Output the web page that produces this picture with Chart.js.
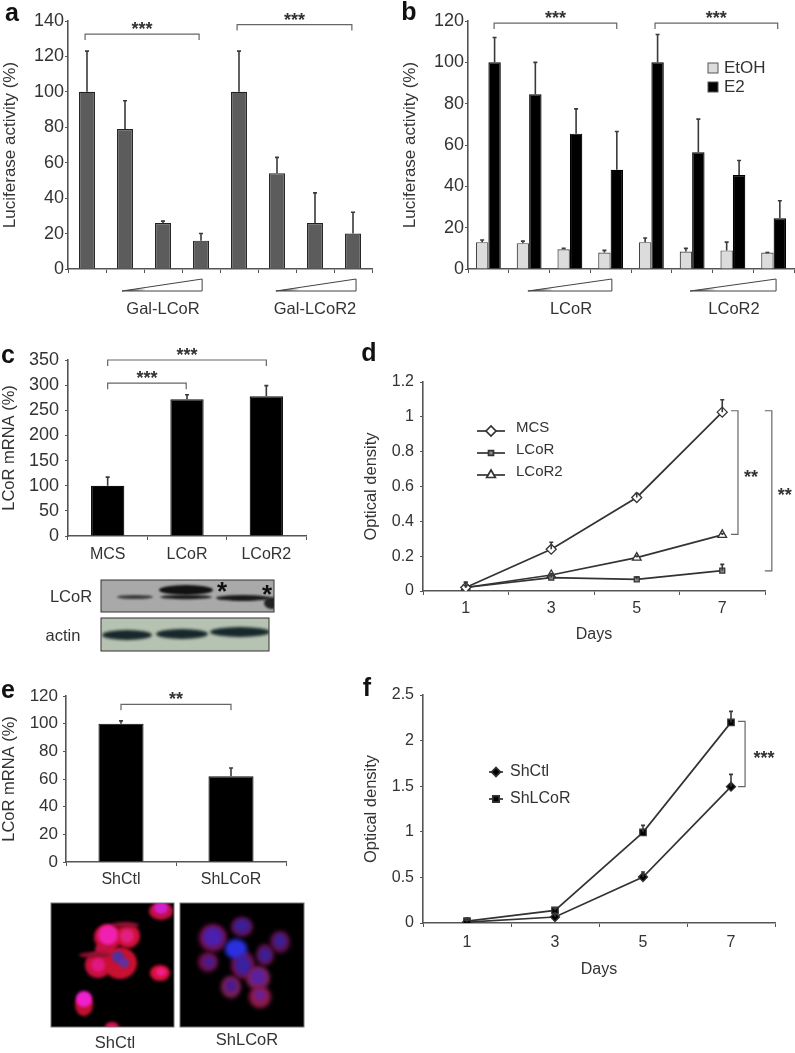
<!DOCTYPE html>
<html>
<head>
<meta charset="utf-8">
<style>
  html, body { margin: 0; padding: 0; background: #fff; }
  #page { position: relative; width: 795px; height: 1053px; overflow: hidden; filter: blur(0.35px); font-family: "Liberation Sans", Arial, sans-serif; color: #333; }
  #page canvas { position: absolute; }
  .lbl { position: absolute; white-space: nowrap; transform: translate(-50%, -50%); font-size: 16.5px; }
  .letter { position: absolute; font-weight: bold; font-size: 25px; color: #111; transform: translate(-50%, -50%); }
</style>
<script src="https://cdn.jsdelivr.net/npm/chart.js@4/dist/chart.umd.min.js"></script>
</head>
<body>
<div id="page"><canvas id="photos" width="795" height="1053" style="left:0;top:0"></canvas></div>
<script>
// panel a
const galLabels = ['ctl', 'd1', 'd2', 'd3', 'ctl2', 'd1b', 'd2b', 'd3b'];
const galValues = [100, 79, 26, 16, 100, 54, 26, 20];
const galTops = [123, 95, 27, 20, 123, 63, 43, 32];
const galTicks = [0, 20, 40, 60, 80, 100, 120, 140];

// panel b
const e2Labels = ['ctl', 'd1', 'd2', 'd3', 'ctl2', 'd1b', 'd2b', 'd3b'];
const etohValues = [13, 12.5, 9.5, 8, 13, 8.5, 9, 8];
const etohTops = [14, 13.5, 10, 9, 15, 10, 13, 8];
const e2Values = [100, 84.5, 65.5, 48, 100, 56.5, 45.5, 24.5];
const e2Tops = [112, 100, 77.5, 66.5, 113.5, 72.5, 52.5, 33];
const e2Ticks = [0, 20, 40, 60, 80, 100, 120];

// panel c
const mrnaLabels = ['MCS', 'LCoR', 'LCoR2'];
const mrnaValues = [100, 272, 278];
const mrnaTops = [117, 281, 299];
const mrnaTicks = [0, 50, 100, 150, 200, 250, 300, 350];

// panel d
const days = ['1', '3', '5', '7'];
const mcsOD = [0.02, 0.24, 0.537, 1.027];
const mcsTops = [0.05, 0.28, 0.56, 1.098];
const lcorOD = [0.02, 0.077, 0.067, 0.117];
const lcorTops = [0.05, 0.09, 0.08, 0.153];
const lcor2OD = [0.02, 0.092, 0.192, 0.322];
const lcor2Tops = [0.03, 0.1, 0.2, 0.33];
const odTicks = [0, 0.2, 0.4, 0.6, 0.8, 1, 1.2];

// panel e
const shLabels = ['ShCtl', 'ShLCoR'];
const shValues = [100, 62];
const shTops = [102, 68];
const shTicks = [0, 20, 40, 60, 80, 100, 120];

// panel f
const shCtlOD = [0.01, 0.066, 0.504, 1.495];
const shCtlTops = [0.03, 0.1, 0.56, 1.63];
const shLcorOD = [0.02, 0.139, 0.994, 2.2];
const shLcorTops = [0.05, 0.16, 1.07, 2.32];
const odTicksF = [0, 0.5, 1, 1.5, 2, 2.5];

const FONT = '"Liberation Sans", Arial, sans-serif';
const AXIS = '#555';
const page = document.getElementById('page');

// error bars, brackets, dose wedges and the small legends
const extras = {
    id: 'extras',
    afterDatasetsDraw(chart) {
        const ctx = chart.ctx, x = chart.scales.x, y = chart.scales.y;
        ctx.save();
        chart.data.datasets.forEach((ds, i) => {
            if (!ds.tops) return;
            ctx.strokeStyle = '#3a3a3a';
            ctx.lineWidth = 1.6;
            chart.getDatasetMeta(i).data.forEach((el, j) => {
                const top = y.getPixelForValue(ds.tops[j]);
                ctx.beginPath();
                ctx.moveTo(el.x, el.y);
                ctx.lineTo(el.x, top);
                ctx.moveTo(el.x - 2, top);
                ctx.lineTo(el.x + 2, top);
                ctx.stroke();
            });
        });
        const opts = chart.options.plugins.extras;

        (opts.wedges || []).forEach(w => {
            const x1 = x.getPixelForValue(w[0]), x2 = x.getPixelForValue(w[1]);
            const y1 = y.bottom + 10, y2 = y.bottom + 22;
            const g = ctx.createLinearGradient(x1, 0, x2, 0);
            g.addColorStop(0, '#111');
            g.addColorStop(0.3, '#fff');
            ctx.fillStyle = g;
            ctx.strokeStyle = '#444';
            ctx.lineWidth = 1;
            ctx.beginPath();
            ctx.moveTo(x1, y2);
            ctx.lineTo(x2, y1);
            ctx.lineTo(x2, y2);
            ctx.closePath();
            ctx.fill();
            ctx.stroke();
        });

        ctx.strokeStyle = '#666';
        ctx.lineWidth = 1.2;
        ctx.fillStyle = '#333';
        ctx.font = 'bold 18px ' + FONT;
        ctx.textAlign = 'center';
        ctx.textBaseline = 'middle';
        (opts.brackets || []).forEach(b => {
            const x1 = x.getPixelForValue(b.from), x2 = x.getPixelForValue(b.to), py = y.getPixelForValue(b.at);
            ctx.beginPath();
            ctx.moveTo(x1, py + 6);
            ctx.lineTo(x1, py);
            ctx.lineTo(x2, py);
            ctx.lineTo(x2, py + 6);
            ctx.stroke();
            ctx.fillText(b.label, (x1 + x2) / 2 + (b.dx || 0), py - 4);
        });
        (opts.sideBrackets || []).forEach(b => {
            const px = x.getPixelForValue(b.x), y1 = y.getPixelForValue(b.from), y2 = y.getPixelForValue(b.to);
            ctx.beginPath();
            ctx.moveTo(px - 7, y1);
            ctx.lineTo(px, y1);
            ctx.lineTo(px, y2);
            ctx.lineTo(px - 7, y2);
            ctx.stroke();
            ctx.fillText(b.label, px + b.dx, (y1 + y2) / 2 + 5);
        });

        const lg = opts.legend;
        if (lg) {
            ctx.textAlign = 'left';
            ctx.font = lg.size + 'px ' + FONT;
            chart.data.datasets.forEach((ds, i) => {
                const py = lg.y + i * lg.gap;
                if (lg.swatch) {
                    ctx.fillStyle = ds.backgroundColor;
                    ctx.strokeStyle = '#555';
                    ctx.lineWidth = 1;
                    ctx.fillRect(lg.x, py - 5, 10, 10);
                    ctx.strokeRect(lg.x, py - 5, 10, 10);
                } else {
                    ctx.strokeStyle = ds.borderColor;
                    ctx.lineWidth = 1.7;
                    ctx.beginPath();
                    ctx.moveTo(lg.x, py);
                    ctx.lineTo(lg.x + lg.line, py);
                    ctx.stroke();
                    ctx.fillStyle = ds.pointBackgroundColor;
                    Chart.helpers.drawPoint(ctx, { pointStyle: ds.pointStyle, radius: ds.pointRadius, borderWidth: 1.3 }, lg.x + lg.line / 2, py);
                }
                ctx.fillStyle = '#333';
                ctx.fillText(ds.label, lg.textX, py + lg.textDy);
            });
        }
        ctx.restore();
    }
};

// box = plot area on the page: left, top, right, bottom
function makeChart(type, box, yWidth, xHeight, labels, datasets, ticks, o) {
    const padTop = 20, padRight = o.padRight === undefined ? 12 : o.padRight;
    const c = document.createElement('canvas');
    const left = box[0] - yWidth, top = box[1] - padTop;
    const w = box[2] - box[0] + yWidth + padRight, h = box[3] - box[1] + padTop + xHeight;
    c.width = w;
    c.height = h;
    c.style.left = left + 'px';
    c.style.top = top + 'px';
    c.style.width = w + 'px';
    c.style.height = h + 'px';
    page.appendChild(c);
    return new Chart(c.getContext('2d'), {
        type: type,
        data: { labels: labels, datasets: datasets },
        plugins: [extras],
        options: {
            responsive: false,
            animation: false,
            devicePixelRatio: 1,
            layout: { padding: { top: padTop, right: padRight, left: 0, bottom: 0 } },
            plugins: { legend: { display: false }, tooltip: { enabled: false }, extras: o },
            scales: {
                x: {
                    type: 'category',
                    offset: true,
                    afterFit: s => { s.height = xHeight; },
                    border: { color: AXIS, width: 1.6 },
                    grid: { drawOnChartArea: false, offset: true, tickLength: 4, color: AXIS },
                    ticks: { display: !o.noXLabels, color: '#333', padding: o.xPad || 3, maxRotation: 0, font: { family: FONT, size: 16 } },
                    title: { display: !!o.xTitle, text: o.xTitle, color: '#333', padding: 0, font: { family: FONT, size: 16 } }
                },
                y: {
                    min: 0,
                    max: ticks[ticks.length - 1],
                    afterFit: s => { s.width = yWidth; },
                    afterBuildTicks: s => { s.ticks = ticks.map(v => ({ value: v })); },
                    border: { color: AXIS, width: 1.6 },
                    grid: { drawOnChartArea: false, tickLength: 3, color: AXIS },
                    ticks: { color: '#333', padding: o.yPad === undefined ? 1 : o.yPad, callback: v => String(v), font: { family: FONT, size: o.tickSize || 18 } },
                    title: { display: true, text: o.yTitle, color: '#333', padding: 0, font: { family: FONT, size: o.titleSize || 16.5 } }
                }
            }
        }
    });
}

function barSet(values, tops, color, edge, pct, cat) {
    return { data: values, tops: tops, backgroundColor: color, borderColor: edge, borderWidth: 1.2, barPercentage: pct, categoryPercentage: cat };
}

function lineSet(label, values, tops, style, radius, fill) {
    return {
        label: label, data: values, tops: tops, tension: 0, borderColor: '#333', borderWidth: 1.7,
        pointStyle: style, pointRadius: radius, pointBackgroundColor: fill, pointBorderColor: '#333', pointBorderWidth: 1.3
    };
}

makeChart('bar', [68, 21, 372, 269], 68, 30, galLabels, [barSet(galValues, galTops, '#5c5c5c', '#222', 0.42, 1)], galTicks, {
    yTitle: 'Luciferase activity (%)', noXLabels: true, titleSize: 17,
    wedges: [[0.92, 3.03], [4.97, 7.08]],
    brackets: [
        { from: -0.05, to: 2.95, at: 132.6, label: '***' },
        { from: 3.95, to: 6.97, at: 138, label: '***' }
    ]
});

makeChart('bar', [468, 21, 794, 269], 68, 30, e2Labels, [
    Object.assign(barSet(etohValues, etohTops, '#dcdcdc', '#444', 1, 0.61), { label: 'EtOH' }),
    Object.assign(barSet(e2Values, e2Tops, '#000', '#000', 1, 0.61), { label: 'E2' })
], e2Ticks, {
    yTitle: 'Luciferase activity (%)', noXLabels: true, padRight: 1, titleSize: 17,
    wedges: [[0.97, 3.03], [4.95, 7.06]],
    brackets: [
        { from: 0.14, to: 3.15, at: 119, label: '***' },
        { from: 4.09, to: 7.1, at: 119, label: '***' }
    ],
    legend: { x: 308, y: 67, gap: 19, size: 17, swatch: true, textX: 324, textDy: 0 }
});

makeChart('bar', [68, 360, 306, 536], 68, 30, mrnaLabels, [barSet(mrnaValues, mrnaTops, '#000', '#111', 0.42, 1)], mrnaTicks, {
    yTitle: 'LCoR mRNA (%)', xPad: 5, yPad: 6,
    brackets: [
        { from: 0, to: 2, at: 350, label: '***' },
        { from: 0, to: 0.99, at: 304, label: '***' }
    ]
});

makeChart('line', [423, 382, 765, 591], 61, 53, days, [
    lineSet('MCS', mcsOD, mcsTops, 'rectRot', 5, '#fff'),
    lineSet('LCoR', lcorOD, lcorTops, 'rect', 3.5, '#888'),
    lineSet('LCoR2', lcor2OD, lcor2Tops, 'triangle', 5, '#fff')
], odTicks, {
    yTitle: 'Optical density', xTitle: 'Days', tickSize: 16, padRight: 30, xPad: 4, yPad: 6,
    sideBrackets: [
        { x: 3.184, from: 1.035, to: 0.325, label: '**', dx: 13 },
        { x: 3.58, from: 1.035, to: 0.115, label: '**', dx: 13 }
    ],
    legend: { x: 115, y: 69, gap: 22, size: 15, line: 28, textX: 154, textDy: -3 }
});

makeChart('bar', [66, 696, 286, 862], 66, 30, shLabels, [barSet(shValues, shTops, '#000', '#111', 0.41, 1)], shTicks, {
    yTitle: 'LCoR mRNA (%)', xPad: 4, yPad: 5, tickSize: 17,
    brackets: [{ from: 0, to: 1, at: 114, label: '**' }]
});

makeChart('line', [423, 695, 775, 923], 61, 56, days, [
    lineSet('ShCtl', shCtlOD, shCtlTops, 'rectRot', 4.5, '#000'),
    lineSet('ShLCoR', shLcorOD, shLcorTops, 'rect', 4.5, '#000')
], odTicksF, {
    yTitle: 'Optical density', xTitle: 'Days', tickSize: 16, xPad: 6, padRight: 15, yPad: 6,
    sideBrackets: [{ x: 3.16, from: 2.21, to: 1.495, label: '***', dx: 19 }],
    legend: { x: 127, y: 97, gap: 27, size: 16, line: 14, textX: 148, textDy: 0 }
});

// plain text outside the axes: [text, x, y]
const pageLabels = [
    ['Gal-LCoR', 163, 308], ['Gal-LCoR2', 315, 308], ['LCoR', 571, 308], ['LCoR2', 734, 308],
    ['LCoR', 71, 596], ['actin', 63, 635], ['ShCtl', 115, 1042], ['ShLCoR', 247, 1039]
];
pageLabels.forEach(t => addText('lbl', t[0], t[1], t[2]));
[['a', 12, 12], ['b', 409, 11], ['c', 8, 354], ['d', 369, 352], ['e', 8, 689], ['f', 367, 687]]
    .forEach(t => addText('letter', t[0], t[1], t[2]));

function addText(cls, text, x, y) {
    const s = document.createElement('span');
    s.className = cls;
    s.textContent = text;
    s.style.left = x + 'px';
    s.style.top = y + 'px';
    page.appendChild(s);
}

// western blot and the two micrographs are photographs in the source, painted roughly here
const g = document.getElementById('photos').getContext('2d');

function blobs(list, blur) {
    g.filter = 'blur(' + blur + 'px)';
    list.forEach(b => {
        g.fillStyle = b[4];
        g.beginPath();
        g.ellipse(b[0], b[1], b[2], b[3], 0, 0, Math.PI * 2);
        g.fill();
    });
    g.filter = 'none';
}

function framed(x, y, w, h, bg, edge, paint) {
    g.save();
    g.beginPath();
    g.rect(x, y, w, h);
    g.clip();
    g.fillStyle = bg;
    g.fillRect(x, y, w, h);
    paint();
    g.restore();
    g.strokeStyle = edge;
    g.lineWidth = 1;
    g.strokeRect(x, y, w, h);
}

framed(101, 580, 173, 32, '#a9a9a9', '#333', () => {
    blobs([
        [135, 597, 18, 2, '#3a3a3a'],
        [186, 590, 27, 5, '#111'],
        [186, 597, 26, 2.2, '#1c1c1c'],
        [243, 598, 27, 3, '#1a1a1a'],
        [272, 603, 8, 6, '#222']
    ], 1.2);
});
framed(101, 618, 168, 33, '#b7c3b2', '#333', () => {
    blobs([
        [127, 635, 25, 5, '#17272a'],
        [182, 634, 26, 5, '#17272a'],
        [240, 632, 30, 5, '#17272a']
    ], 1.5);
});
g.fillStyle = '#111';
g.font = 'bold 26px ' + FONT;
g.textAlign = 'center';
g.fillText('*', 222, 600);
g.fillText('*', 267, 603);

framed(51, 903, 123, 124, '#000', '#777', () => {
    blobs([
        [108, 937, 14, 13, '#c8103c'], [128, 936, 12, 12, '#d01038'], [105, 950, 10, 9, '#c01040'],
        [98, 965, 13, 13, '#c8103c'], [120, 963, 17, 16, '#c81030'], [160, 973, 10, 8, '#d8103c'],
        [84, 1005, 9, 11, '#c01030'], [161, 911, 12, 9, '#c01040'], [112, 1027, 7, 5, '#e01050'],
        [95, 955, 16, 3, '#901030'], [125, 925, 14, 3, '#901030']
    ], 1.5);
    blobs([
        [108, 935, 10, 10, '#f020b0'], [127, 936, 7, 7, '#e02080'], [98, 965, 7, 7, '#e01880'],
        [84, 999, 8, 8, '#f020d0'], [161, 908, 7, 6, '#d020d0'], [161, 972, 5, 4, '#f02090'],
        [118, 957, 6, 6, '#5030a0'], [124, 963, 5, 5, '#6030a0']
    ], 1.5);
});
framed(180, 903, 124, 124, '#000', '#777', () => {
    blobs([
        [213, 938, 14, 14, '#701048'], [242, 927, 11, 10, '#601048'], [208, 962, 10, 10, '#701048'],
        [265, 955, 9, 11, '#601048'], [280, 942, 10, 11, '#601048'], [243, 965, 12, 14, '#701048'],
        [258, 978, 12, 12, '#802050'], [231, 987, 10, 11, '#802050'], [260, 997, 11, 11, '#901848']
    ], 2);
    blobs([
        [213, 937, 10, 10, '#4a20b0'], [242, 926, 8, 7, '#3a2098'], [236, 949, 11, 10, '#2a30e0'],
        [209, 962, 6, 6, '#4a1a90'], [265, 955, 6, 7, '#3a2098'], [280, 941, 6, 7, '#3a2098'],
        [243, 965, 8, 10, '#3a20a0'], [258, 977, 8, 8, '#5a20a0'], [231, 986, 6, 7, '#4a1a90'],
        [260, 995, 6, 6, '#6a2090']
    ], 2);
});
</script>
</body>
</html>
